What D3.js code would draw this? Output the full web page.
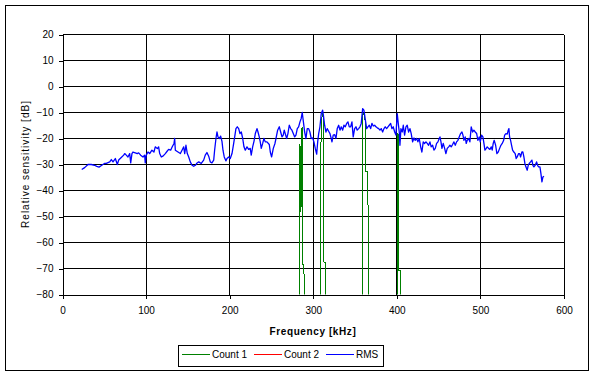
<!DOCTYPE html>
<html>
<head>
<meta charset="utf-8">
<script src="https://cdn.jsdelivr.net/npm/d3@7"></script>
<style>
  body { margin: 0; background: #fff; }
  text { font-family: "Liberation Sans", Arial, sans-serif; fill: #000; }
</style>
</head>
<body>
<svg id="chart" width="594" height="375"></svg>
<script>
// axis ticks
const xTicks = [0, 100, 200, 300, 400, 500, 600];
const yTicks = [20, 10, 0, -10, -20, -30, -40, -50, -60, -70, -80];

const seriesNames = ['Count 1', 'Count 2', 'RMS'];
const seriesColors = ['#008000', '#ff0000', '#0000ff'];

// RMS: [frequency kHz, dB]
const rmsData = [
  [23,-31.9],[26.5,-31.2],[30.5,-30],[34.5,-30],[38.3,-30.3],[41,-30.7],[43.7,-31],[47,-30.3],
  [50.2,-29.6],[52.4,-29.6],[56.5,-29],[58.4,-28.1],[60.4,-29],[63.2,-27.7],[65.6,-30],[67.2,-28.3],
  [70.3,-27.3],[73.2,-26.4],[74.4,-25.8],[76.3,-26.4],[78.3,-27.1],[80.4,-25.8],[81.6,-29.4],[83.1,-25.8],
  [84.3,-25.2],[87.1,-25.5],[89.5,-25.8],[91.1,-25.5],[93.5,-26.4],[96.3,-27.1],[98.3,-26.4],[99,-29.4],
  [100.2,-26.4],[102.3,-25.2],[104.3,-25.8],[107,-24.5],[109.4,-25.2],[111,-23.2],[113.4,-23.9],[115,-23.2],
  [116.3,-25.8],[118.2,-27.1],[120.2,-26.8],[123,-25.8],[125.4,-24.8],[127,-24.2],[129.4,-24.5],[131.3,-23.2],
  [133.4,-21.9],[134.2,-20],[135,-24.5],[138.2,-25.2],[141,-25.8],[143,-24.5],[145,-23.2],[146.2,-25.8],
  [147.7,-22.6],[149.3,-25.8],[151,-27.1],[152.9,-29],[155,-30.3],[157,-30.7],[159,-30.3],[161,-29.4],
  [163,-29],[166,-29.6],[168.9,-28.3],[170.8,-26.4],[172.8,-25.4],[174.9,-26.8],[176.8,-29],[178.8,-29.4],
  [180.9,-28.3],[182,-24.5],[183.6,-20],[184.8,-17.5],[186,-19.4],[187.6,-20],[189.2,-19.1],[190.8,-21.1],
  [192,-24.5],[193.5,-27.1],[195.6,-28.6],[196.8,-27.7],[198.8,-27.1],[200.7,-27.7],[202.8,-25.8],[204.8,-21.9],
  [206,-19.4],[207.5,-16.2],[209.1,-15.5],[210.8,-16.2],[212.3,-18.1],[213.9,-17.5],[215.6,-20],[217.1,-23.2],
  [218.7,-24.5],[220.7,-23.2],[222.7,-24.2],[224.6,-23.8],[225.8,-26.4],[227.5,-23.2],[229.1,-21.1],[230.7,-18.1],
  [232.7,-16.2],[233.9,-17.5],[235.4,-19.4],[236.6,-21.3],[237.8,-23.8],[239.5,-21.9],[241,-20],[242.6,-21.3],
  [244.6,-21.3],[247.4,-22.3],[248.6,-25.2],[250.2,-27.1],[252.2,-23.8],[254.2,-21.9],[255.4,-20],[257.4,-16.8],
  [259.4,-15.5],[261,-17.5],[262.6,-19.4],[264.1,-18.7],[265.3,-16.8],[266.5,-18.1],[268.2,-20],[269.7,-18.1],
  [271.3,-14.9],[273,-16.2],[274.5,-16.8],[276.1,-18.1],[277.8,-19.4],[279.3,-18.7],[280.9,-16.2],[282.5,-15.5],
  [284.1,-13.6],[285.6,-12.3],[286.8,-10],[288,-13],[289.7,-17.5],[291.3,-20],[292.8,-16.2],[294.5,-16.2],
  [296,-17.5],[297.6,-20],[299.3,-19.8],[300.8,-21.3],[302.4,-23.8],[304.1,-26],[305.3,-21.3],[306.5,-18.1],
  [308,-15.5],[309.6,-10.4],[311.2,-9.1],[312.4,-11.7],[313.6,-14.9],[315.2,-17.5],[316.7,-16.2],[318.4,-17.2],
  [320,-18.1],[321.5,-20],[322.4,-21.3],[323.9,-18.7],[325.6,-18.5],[327.2,-20],[328.7,-16.2],[330.4,-14.9],
  [332,-16.8],[333.5,-15.5],[335.2,-16.8],[336.7,-14.9],[338.3,-15.5],[340,-14.2],[341.5,-13.6],[343.1,-15.5],
  [344.7,-15.5],[346.3,-13.6],[347.8,-19.4],[349.5,-16.2],[351.1,-15.5],[352.6,-16.8],[354.3,-16.2],[355.9,-15.5],
  [357.4,-14.2],[359.1,-8.5],[360.6,-9.1],[361.5,-11],[362.7,-13.6],[363.9,-16.2],[365.4,-15.5],[367,-14.9],
  [368.7,-16.2],[370.2,-14.2],[371.8,-15.2],[373.5,-14.9],[375,-15.5],[376.6,-15.9],[378.3,-16.2],[379.8,-16.8],
  [381.3,-16.2],[383,-17.5],[384.6,-16.2],[386.1,-15.5],[387.8,-16.2],[389.4,-15.5],[390.9,-14.9],[392.6,-14.2],
  [394.1,-16.2],[395.7,-15.5],[397.4,-17.5],[398.9,-18.7],[400.5,-10.4],[401.7,-14.2],[402.9,-17.5],[403.7,-22.6],
  [404.9,-16.2],[406.5,-17.5],[407.7,-14.9],[409.3,-18.7],[410.9,-15.5],[412.4,-14.9],[414.1,-17.5],[415.7,-16.2],
  [417.2,-18.1],[418.9,-21.3],[420.5,-19.8],[422,-20.7],[423.7,-20],[425.2,-21.3],[426.8,-20],[428.5,-23.2],
  [430,-25.2],[431.6,-21.3],[433.3,-21.9],[434.8,-21.3],[436.4,-21.9],[438,-22.6],[439.6,-21.3],[441.1,-23.2],
  [442.8,-22.6],[444.4,-24.5],[446,-23.8],[447.6,-21.9],[449.2,-21.3],[450.7,-20],[451.6,-19.4],[452.8,-21.3],
  [454,-23.8],[455.5,-21.9],[457.2,-23.8],[458.7,-25.8],[460.3,-23.8],[462,-23.2],[463.5,-22.6],[465.1,-23.2],
  [466.7,-22.3],[468.3,-21.3],[469.9,-22.6],[471.5,-21.3],[473.1,-20.7],[474.6,-19.4],[476.3,-18.1],[477.9,-17.5],
  [479.1,-18.7],[480.3,-20.7],[481.8,-19.4],[483,-21.9],[484.2,-20.7],[485.9,-20],[487.4,-21.3],[489,-15.5],
  [490.7,-17.5],[492.2,-16.8],[493.8,-17.5],[495.5,-18.1],[497,-20.7],[498.6,-19.4],[499.8,-21.3],[501.4,-18.7],
  [503,-19.4],[504.2,-21.9],[505.4,-24.5],[507,-23.8],[508.1,-23.2],[509.8,-23.8],[511.4,-24.2],[513,-23.2],
  [514.1,-24.5],[515.3,-21.9],[516.5,-20.7],[518.2,-22.6],[519.7,-25.8],[521.3,-25.2],[523,-23.8],[524.5,-22.6],
  [526.1,-21.9],[527.8,-20.7],[529,-18.7],[530.5,-18.1],[532.1,-18.3],[533.3,-16.8],[534.1,-16.2],[534.9,-19.4],
  [536.1,-20.7],[537.3,-22.6],[538.5,-24.5],[540,-25.2],[541.6,-25.8],[542.8,-27.7],[544,-27.1],[545.7,-25.8],
  [546.9,-25.8],[548.1,-27.1],[549.6,-25.2],[550.8,-25.2],[552,-27.1],[553.2,-29.6],[554.4,-30.9],[556,-32.2],
  [557.2,-30.3],[558.4,-29.6],[560,-29],[561.6,-28.3],[562.8,-30.3],[564,-30.9],[565.5,-30.3],[567.2,-29],
  [568.4,-30.3],[569.6,-30.9],[571.2,-30.9],[572.4,-33.5],[573.6,-36.7],[574.8,-34.8],[576,-34.5]
];

// Count 1: only rises above the axis minimum near a few frequencies
const count1Data = [
  [282.9,-95],[283.3,-52.7],[283.7,-24],[283.9,-47],[284.1,-22],[284.3,-48],[284.5,-25],[284.7,-46],
  [284.9,-23],[285.1,-47],[285.3,-24],[285.5,-45],[285.7,-21],[285.9,-46],[286.1,-22],[286.6,-15.5],
  [287.0,-48],[287.6,-68.5],[288.9,-68.5],[289.2,-95],
  [308.7,-95],[308.9,-26],[310,-13],[311.2,-10],[312.3,-12],[312.5,-67.5],[314.7,-67.5],[314.9,-95],
  [358.5,-95],[358.7,-11],[359.8,-10.4],[361,-11],[362.5,-14],[362.8,-32.8],[364.9,-32.8],[365.1,-45.6],
  [366.1,-45.6],[366.3,-95],
  [400.4,-95],[400.6,-18.7],[401.2,-18],[401.9,-19],[402.1,-70.6],[404.2,-70.6],[404.4,-95]
];

// Count 2: stays below the axis minimum (nothing visible)
const count2Data = [];

const svg = d3.select('#chart');

const x = d3.scaleLinear().domain([0, 600]).range([62.5, 564]);
const y = d3.scaleLinear().domain([-80, 20]).range([294.5, 34.5]);

// outer chart border
svg.append('rect')
  .attr('x', 5.5).attr('y', 5.5)
  .attr('width', 583).attr('height', 365)
  .attr('fill', '#fff').attr('stroke', '#000');

// gridlines
const grid = svg.append('g').attr('shape-rendering', 'crispEdges');
grid.selectAll('line.h')
  .data(yTicks.filter(d => d !== -80))
  .enter().append('line')
  .attr('x1', x(0)).attr('x2', x(600))
  .attr('y1', d => y(d)).attr('y2', d => y(d))
  .attr('stroke', '#000');
grid.selectAll('line.v')
  .data(xTicks.filter(d => d !== 0))
  .enter().append('line')
  .attr('x1', d => x(d)).attr('x2', d => x(d))
  .attr('y1', y(20)).attr('y2', y(-80))
  .attr('stroke', '#000');

// axes
const yAxis = svg.append('g')
  .attr('transform', `translate(${x(0)},0)`)
  .call(d3.axisLeft(y).tickValues(yTicks).tickSize(4).tickSizeOuter(0).tickPadding(5));
const xAxis = svg.append('g')
  .attr('transform', `translate(0,${y(-80)})`)
  .call(d3.axisBottom(x).tickValues(xTicks).tickSize(4).tickSizeOuter(0).tickPadding(8));
[xAxis, yAxis].forEach(a => {
  a.attr('shape-rendering', 'crispEdges');
  a.selectAll('path, line').attr('stroke', '#000');
  a.selectAll('text').attr('font-size', 10).attr('font-family', '"Liberation Sans", Arial, sans-serif');
});

// series
const clipId = 'plotClip';
svg.append('clipPath').attr('id', clipId)
  .append('rect')
  .attr('x', x(0)).attr('y', y(20))
  .attr('width', x(600) - x(0)).attr('height', y(-80) - y(20));

const line = d3.line().x(d => x(d[0])).y(d => y(d[1]));
const plotG = svg.append('g').attr('clip-path', `url(#${clipId})`);

[count1Data, count2Data, rmsData].forEach((data, i) => {
  if (!data.length) return;
  plotG.append('path')
    .datum(data)
    .attr('d', line)
    .attr('fill', 'none')
    .attr('stroke', seriesColors[i])
    .attr('stroke-width', i === 2 ? 1.3 : 1)
    .attr('shape-rendering', i === 2 ? 'auto' : 'crispEdges')
    .attr('stroke-linejoin', 'round');
});

// axis titles
svg.append('text')
  .attr('x', 313).attr('y', 335)
  .attr('text-anchor', 'middle')
  .attr('font-size', 10)
  .attr('font-weight', 'bold')
  .attr('letter-spacing', 0.6)
  .text('Frequency [kHz]');

svg.append('text')
  .attr('transform', 'translate(28.5,164) rotate(-90)')
  .attr('text-anchor', 'middle')
  .attr('font-size', 10)
  .attr('letter-spacing', 1)
  .text('Relative sensitivity [dB]');

// legend
const legend = svg.append('g');
legend.append('rect')
  .attr('x', 178.5).attr('y', 345.5)
  .attr('width', 205).attr('height', 21)
  .attr('fill', '#fff').attr('stroke', '#000')
  .attr('shape-rendering', 'crispEdges');

const item = legend.selectAll('g.item')
  .data(seriesNames)
  .enter().append('g')
  .attr('transform', (d, i) => `translate(${182 + i * 72},354.5)`);
item.append('line')
  .attr('x1', 0).attr('x2', 28)
  .attr('stroke', (d, i) => seriesColors[i]);
item.append('text')
  .attr('x', 30).attr('y', 3.6)
  .attr('font-size', 10)
  .text(d => d);
</script>
</body>
</html>
